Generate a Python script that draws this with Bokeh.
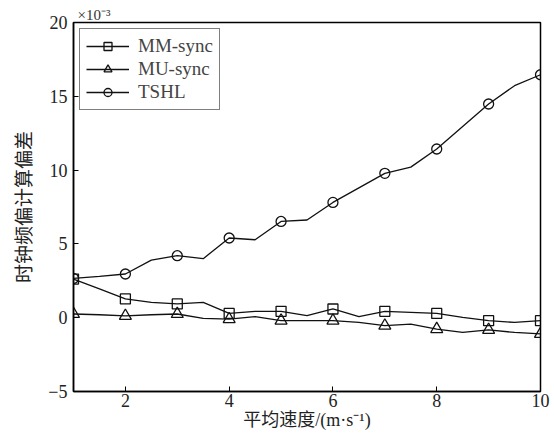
from bokeh.plotting import figure
from bokeh.models import FixedTicker, Range1d, Title
from bokeh.embed import file_html
from bokeh.resources import INLINE

# Data (values in units of 1e-3)
speed = [1, 1.5, 2, 2.5, 3, 3.5, 4, 4.5, 5, 5.5, 6, 6.5, 7, 7.5, 8, 8.5, 9, 9.5, 10]
mm_sync = [2.62, 1.95, 1.27, 1.04, 0.93, 1.04, 0.29, 0.43, 0.43, 0.14, 0.59, 0.07,
           0.43, 0.36, 0.29, 0.02, -0.2, -0.32, -0.2]
mu_sync = [0.25, 0.2, 0.12, 0.2, 0.25, -0.05, -0.1, 0.07, -0.2, -0.2, -0.2, -0.32,
           -0.54, -0.43, -0.77, -1.0, -0.83, -1.0, -1.1]
tshl = [2.66, 2.8, 2.96, 3.9, 4.2, 4.0, 5.4, 5.28, 6.52, 6.62, 7.81, 8.8, 9.78,
        10.2, 11.43, 12.96, 14.48, 15.72, 16.46]
x_ticks = [2, 4, 6, 8, 10]
y_ticks = [-5, 0, 5, 10, 15, 20]

SERIF = "Liberation Serif"
CJK = "'Liberation Serif', 'Noto Sans CJK SC'"

p = figure(width=554, height=437, output_backend="svg", toolbar_location=None,
           x_range=Range1d(1, 10), y_range=Range1d(-5, 20),
           min_border_left=73, min_border_right=14, min_border_top=22,
           min_border_bottom=46)

p.xgrid.visible = False
p.ygrid.visible = False
p.outline_line_color = "black"
p.outline_line_width = 1.5
p.background_fill_color = "white"
p.border_fill_color = "white"

series = [("MM-sync", mm_sync, "square", 10), ("MU-sync", mu_sync, "triangle", 12),
          ("TSHL", tshl, "circle", 10)]
for name, ys, marker, sz in series:
    p.line(speed, ys, line_color="#111111", line_width=1.3, legend_label=name)
    p.scatter(speed[::2], ys[::2], marker=marker, size=sz, line_color="#111111",
              line_width=1.3, fill_alpha=0, legend_label=name)

for ax in (p.xaxis[0], p.yaxis[0]):
    ax.major_tick_in = 5
    ax.major_tick_out = 0
    ax.minor_tick_in = 0
    ax.minor_tick_out = 0
    ax.axis_line_color = "black"
    ax.axis_line_width = 1.5
    ax.major_tick_line_color = "black"
    ax.major_label_text_font = SERIF
    ax.major_label_text_font_size = "18px"
    ax.major_label_text_color = "#222222"
    ax.axis_label_text_font = CJK
    ax.axis_label_text_font_size = "18px"
    ax.axis_label_text_font_style = "normal"
    ax.axis_label_text_color = "#222222"

p.yaxis.axis_label_text_font_size = "19px"
p.xaxis.ticker = FixedTicker(ticks=x_ticks)
p.yaxis.ticker = FixedTicker(ticks=y_ticks)
p.xaxis.axis_label = "平均速度/(m·s⁻¹)"
p.yaxis.axis_label = "时钟频偏计算偏差"
p.xaxis.major_label_standoff = 2
p.xaxis.axis_label_standoff = 0
p.yaxis.major_label_standoff = 6
p.yaxis.axis_label_standoff = 10

p.add_layout(Title(text="×10⁻³", align="left", offset=4, standoff=0,
                   text_font=SERIF, text_font_size="15px",
                   text_font_style="normal", text_color="#333333"), "above")

lg = p.legend[0]
lg.location = "top_left"
lg.margin = 6
lg.padding = 6
lg.spacing = 1
lg.label_text_font = SERIF
lg.label_text_font_size = "19px"
lg.label_height = 20
lg.glyph_height = 20
lg.glyph_width = 43
lg.label_standoff = 9
lg.border_line_color = "black"
lg.border_line_width = 1.5
lg.background_fill_alpha = 1

open("out.html", "w").write(file_html(p, INLINE))
